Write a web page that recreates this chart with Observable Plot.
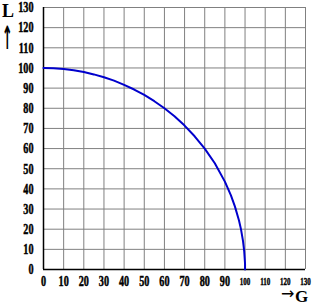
<!DOCTYPE html>
<html>
<head>
<meta charset="utf-8">
<script src="https://cdn.jsdelivr.net/npm/d3@7"></script>
<script src="https://cdn.jsdelivr.net/npm/@observablehq/plot@0.6"></script>
<style>
  html, body { margin: 0; padding: 0; background: #fff; }
  #chart { position: relative; width: 320px; height: 306px; }
  .lbl { position: absolute; font-family: "Liberation Serif", "DejaVu Serif", serif; font-weight: bold; color: #000; line-height: 1; white-space: nowrap; }
  .arr { font-family: "DejaVu Sans", sans-serif; }
</style>
</head>
<body>
<div id="chart">
  <div class="lbl" style="left:2px;top:2px;font-size:18px;">L</div>
  <div class="lbl arr" style="left:2px;top:22px;font-size:32px;font-weight:bold;transform:scale(0.4,1);transform-origin:0 0;">↑</div>
  <div class="lbl arr" style="left:281px;top:289px;height:10px;line-height:10px;font-size:16px;font-weight:normal;">→</div>
  <div class="lbl" style="left:295px;top:288px;font-size:17px;">G</div>
</div>
<script>
const gValues = [0, 5, 10, 15, 20, 25, 30, 35, 40, 45, 50, 55, 60, 65, 70, 75, 80, 85, 90, 93, 95, 97, 98, 99, 99.6, 100, 100];
const lValues = [100, 99.9, 99.5, 98.9, 98, 96.8, 95.4, 93.7, 91.6, 89.3, 86.6, 83.5, 80, 76, 71.4, 66.1, 60, 52.7, 43.6, 36.8, 31.2, 24.3, 19.9, 14.1, 9, 3, 0];
const ticksSmall = [0, 10, 20, 30, 40, 50, 60, 70, 80, 90];
const ticksLarge = [100, 110, 120, 130];
const yTicks = [0, 10, 20, 30, 40, 50, 60, 70, 80, 90, 100, 110, 120, 130];

const curve = gValues.map((g, i) => ({g, l: lValues[i]}));
const font = "Liberation Serif, DejaVu Serif, serif";

const plot = Plot.plot({
  width: 320,
  height: 306,
  marginLeft: 43,
  marginRight: 15,
  marginTop: 7,
  marginBottom: 37,
  style: {fontFamily: font, background: "transparent"},
  x: {domain: [0, 130], label: null},
  y: {domain: [0, 130], label: null},
  marks: [
    Plot.gridX(yTicks, {stroke: "#808080", strokeOpacity: 1, strokeWidth: 1}),
    Plot.gridY(yTicks, {stroke: "#808080", strokeOpacity: 1, strokeWidth: 1}),
    Plot.axisX(ticksSmall, {tickSize: 0, tickPadding: 6, fontSize: 15, fontWeight: "bold", fill: "#000", label: null}),
    Plot.axisX(ticksLarge, {tickSize: 0, tickPadding: 8, fontSize: 10, fontWeight: "bold", fill: "#000", label: null}),
    Plot.axisY(yTicks, {tickSize: 0, tickPadding: 10, fontSize: 15, fontWeight: "bold", fill: "#000", label: null}),
    Plot.ruleX([0], {stroke: "#000", strokeWidth: 1.5}),
    Plot.ruleY([0], {stroke: "#000", strokeWidth: 1.5}),
    Plot.line(curve, {x: "g", y: "l", stroke: "#0000cc", strokeWidth: 2, curve: "linear"})
  ]
});
// condense tick label glyphs horizontally and thicken them (heavy narrow digits as in the reference)
function condense(el, s, sw) {
  const t = el.getAttribute("transform");
  if (t) {
    el.setAttribute("transform", t + ` scale(${s},1)`);
  } else {
    const x = +el.getAttribute("x") || 0, y = +el.getAttribute("y") || 0;
    el.removeAttribute("x"); el.removeAttribute("y");
    el.setAttribute("transform", `translate(${x},${y}) scale(${s},1)`);
  }
  el.setAttribute("stroke", "#000");
  el.setAttribute("stroke-width", sw);
}
plot.querySelectorAll("g[aria-label='y-axis tick label'] text").forEach(el => condense(el, 0.68, 0.5));
plot.querySelectorAll("g[aria-label='x-axis tick label'] text").forEach(el => {
  const big = el.textContent.trim().length >= 3;
  condense(el, big ? 0.7 : 0.68, big ? 0.4 : 0.5);
});
document.getElementById("chart").prepend(plot);
plot.style.position = "absolute";
plot.style.left = "0";
plot.style.top = "0";
</script>
</body>
</html>
